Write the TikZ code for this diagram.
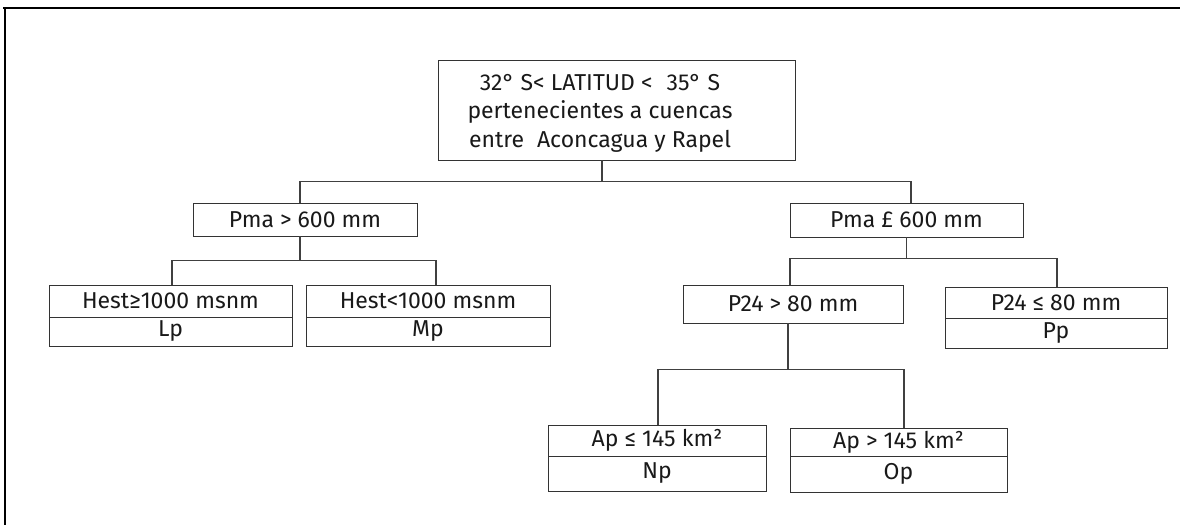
\documentclass[tikz,border=0pt]{standalone}
\usepackage{fontspec}
\setmainfont{Fira Sans}
\begin{document}
\begin{tikzpicture}[x=1pt,y=-1pt,
  box/.style={draw=black!80, line width=0.9pt, inner sep=0pt, align=center,
    font=\fontsize{23}{26}\selectfont, text=black!90},
  txt/.style={inner sep=0pt, anchor=base, font=\fontsize{23}{26}\selectfont, text=black!90},
  conn/.style={draw=black!75, line width=1.1pt},
  frame/.style={draw=black, line width=2.2pt}]
\useasboundingbox (0,0) rectangle (1180,525);
\draw[frame] (3,8) -- (1180,8);
\draw[frame] (5,8) -- (5,525);
% top
\node[box, minimum width=357pt, minimum height=100pt] (top) at (616.5,110) {};
\node[txt] (t1) at (600,90) {32° S< LATITUD <\hspace{0.35em} 35° S};
\node[txt] (t2) at (600,118.5) {pertenecientes a cuencas};
\node[txt] (t3) at (600,147) {entre\hspace{0.3em} Aconcagua y Rapel};
% level 1
\node[box, minimum width=224pt, minimum height=33pt] (pma1) at (305,219.5) {Pma > 600 mm};
\node[box, minimum width=233pt, minimum height=34pt] (pma2) at (906.5,220) {Pma £ 600 mm};
% level 2 left
\node[box, minimum width=243pt, minimum height=32pt] (lpc) at (170.5,301) {Hest≥1000 msnm};
\node[box, minimum width=243pt, minimum height=29pt] (lpr) at (170.5,331.5) {Lp};
\node[box, minimum width=244pt, minimum height=32pt] (mpc) at (428,301) {Hest<1000 msnm};
\node[box, minimum width=244pt, minimum height=29pt] (mpr) at (428,331.5) {Mp};
% level 2 right
\node[box, minimum width=220pt, minimum height=38pt] (p24a) at (793,304) {P24 > 80 mm};
\node[box, minimum width=222pt, minimum height=31pt] (p24bc) at (1056,302.5) {P24 ≤ 80 mm};
\node[box, minimum width=222pt, minimum height=30pt] (p24br) at (1056,333) {Pp};
% level 3
\node[box, minimum width=218pt, minimum height=31pt] (npc) at (657,440.5) {Ap ≤ 145 km²};
\node[box, minimum width=218pt, minimum height=35pt] (npr) at (657,473.5) {Np};
\node[box, minimum width=217pt, minimum height=28pt] (opc) at (898.5,442) {Ap > 145 km²};
\node[box, minimum width=217pt, minimum height=36pt] (opr) at (898.5,474) {Op};
% connectors
\draw[conn] ([xshift=-14.5pt]top.south) -- ++(0,21) coordinate (j0);
\draw[conn] ([xshift=-5pt]pma1.north) |- (j0) -| ([xshift=4.5pt]pma2.north);
\draw[conn] ([xshift=-5pt]pma1.south) -- ++(0,24) coordinate (j1);
\draw[conn] ([xshift=1.5pt]lpc.north) |- (j1) -| ([xshift=8pt]mpc.north);
\draw[conn] (pma2.south) -- ++(0,21) coordinate (j2);
\draw[conn] ([xshift=-3pt]p24a.north) |- (j2) -| ([xshift=1pt]p24bc.north);
\draw[conn] ([xshift=-5pt]p24a.south) -- ++(0,46) coordinate (j3);
\draw[conn] ([xshift=1pt]npc.north) |- (j3) -| ([xshift=5.5pt]opc.north);
\end{tikzpicture}
\end{document}
